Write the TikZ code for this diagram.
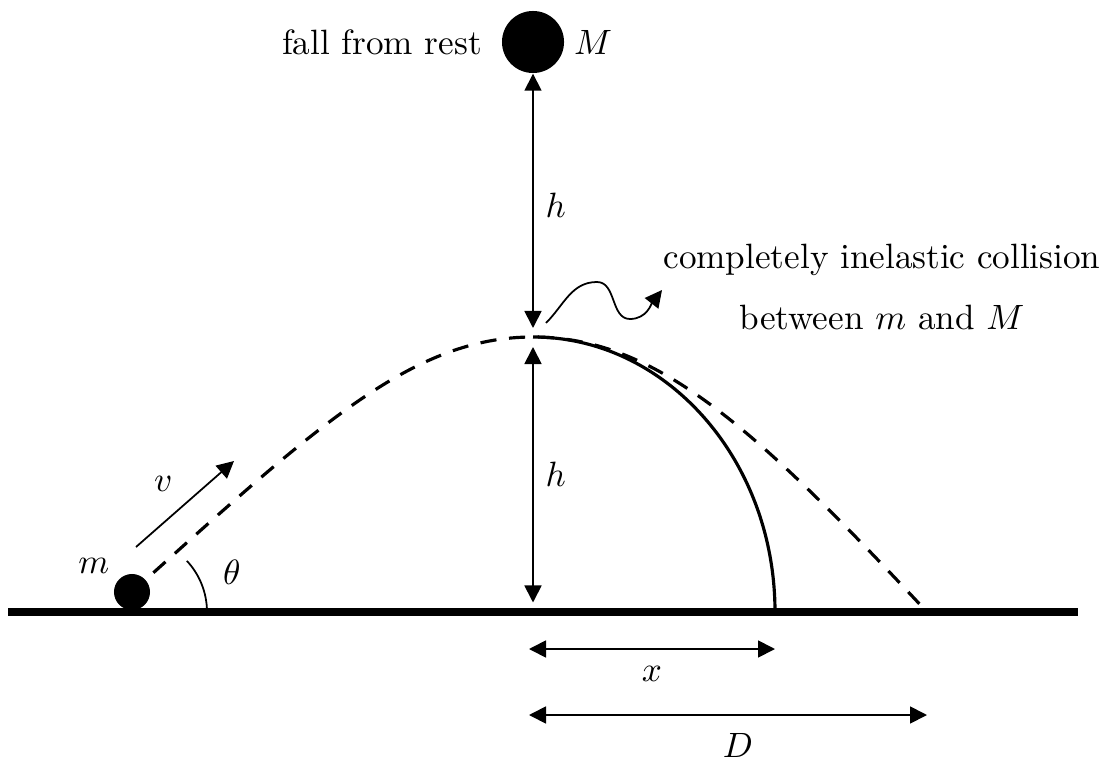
\documentclass[tikz,border=0pt]{standalone}
\usepackage{amsmath}
\usetikzlibrary{arrows.meta,positioning,calc}

\begin{document}
\begin{tikzpicture}[
    x=0.01cm, y=0.01cm,
    ball/.style={circle, fill=black, inner sep=0pt, minimum size=0.36cm},
    bigball/.style={circle, fill=black, inner sep=0pt, minimum size=0.62cm},
    ground/.style={line width=2.3pt},
    traj/.style={line width=0.9pt},
    dashtraj/.style={traj, dash pattern=on 4.6pt off 3.6pt},
    arrow/.style={->, >={Triangle[length=0.17cm, width=0.17cm]}, line width=0.5pt},
    dim/.style={arrow, <->},
]
\useasboundingbox (0,0) rectangle (1103,763);

% === POINTS ===
\coordinate (top) at (533,426);
\coordinate (foot) at (533,151);
\coordinate (landx) at (775,151);
\coordinate (landD) at (927,151);
\coordinate (gL) at (8,151);
\coordinate (gR) at (1078,151);

% === TRAJECTORIES ===
\draw[dashtraj] (132,171) .. controls (317.8,338.3) and (413,426) .. (top)
    .. controls (653,426) and (749.7,341.2) .. (landD);
\draw[traj] (top) arc[start angle=90, end angle=0, x radius=242, y radius=275];

% === GROUND ===
\draw[ground] (gL) -- (gR);

% === BALLS ===
\node[ball] (ballm) at (132,171) {};
\node[bigball] (ballM) at (533,721) {};
\node[left=0.07cm of ballM] (rest) {fall from rest};
\node[right=-0.03cm of ballM] (labM) {$M$};
\node[above left=-0.07cm and -0.03cm of ballm] (labm) {$m$};

% === LAUNCH ===
\coordinate (vs) at (136,216);
\coordinate (ve) at (234,302);
\draw[arrow] (vs) -- (ve) node[midway, above left] {$v$};
\draw[line width=0.5pt] (foot -| ballm) ++(75,0) arc[start angle=0, end angle=43, radius=75];
\node[right=0.6cm of ballm, yshift=0.2cm] (theta) {$\theta$};

% === HEIGHTS ===
\draw[dim, shorten >=0.09cm] (ballM) -- (top) node[midway, right] {$h$};
\draw[dim, shorten <=0.1cm, shorten >=0.095cm] (top) -- (foot) node[midway, right] {$h$};

% === COLLISION NOTE ===
\node[align=center] (note) at (882,476) {completely inelastic collision\\[5.6pt]between $m$ and $M$};
\coordinate (ws) at (546,440);
\coordinate (we) at (662,473);
\draw[arrow] (ws) to[out=45, in=180] (597,481) to[out=0, in=180] (630,444) to[out=0, in=-128] (we);

% === DISTANCES ===
\coordinate (xL) at (529,114);
\coordinate (xR) at (775,114);
\coordinate (DL) at (529,48);
\coordinate (DR) at (927,48);
\draw[dim] (xL) -- (xR) node[midway, below=0.05cm] {$x$};
\draw[dim] (DL) -- (DR) node[pos=0.525, below=0.06cm] {$D$};

\end{tikzpicture}
\end{document}
